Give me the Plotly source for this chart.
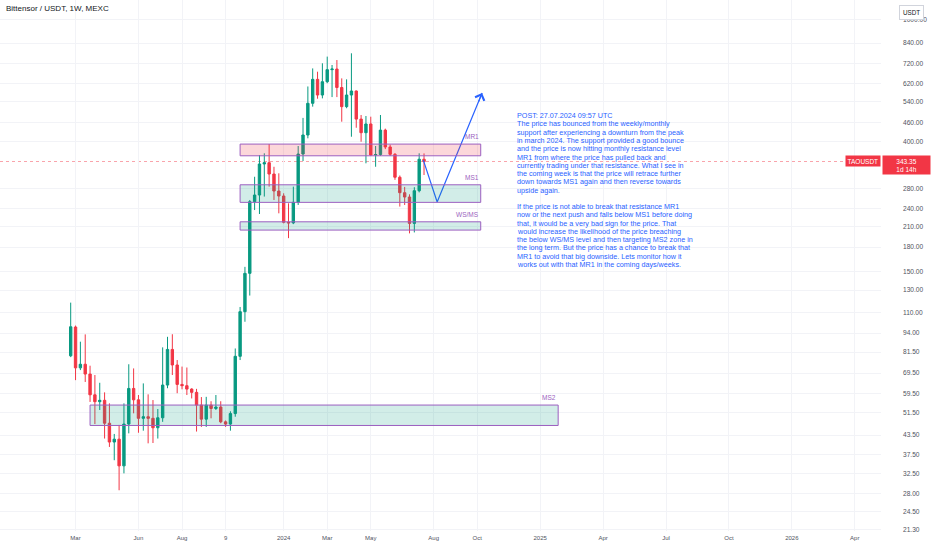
import numpy as np
import pandas as pd
import plotly.graph_objects as go

# ---------------- data (weekly TAO/USDT candles) ----------------
first_week = "2023-02-27"
opens = [79.2, 98.4, 72.3, 74.3, 69.0, 59.0, 56.0, 56.6, 47.6, 41.3,
         42.2, 34.5, 47.3, 61.9, 56.8, 49.4, 50.0, 49.4, 46.0, 49.6,
         63.5, 83.1, 73.9, 63.8, 63.2, 61.6, 60.1, 54.6, 49.1, 54.6,
         53.2, 53.8, 48.1, 47.3, 51.2, 78.9, 110.5, 147.6, 253.5, 266.6,
         337.0, 340.3, 312.4, 274.8, 264.6, 217.0, 216.0, 252.3, 363.3, 419.4,
         532.8, 638.4, 567.2, 627.1, 686.8, 690.0, 600.3, 519.5, 567.2, 584.6,
         472.9, 426.8, 455.8, 360.6, 362.0, 435.2, 383.1, 362.5, 304.9, 271.3,
         262.6, 215.2, 275.4, 349.3]
highs = [118.3, 99.5, 88.1, 93.1, 73.5, 68.5, 64.6, 60.1, 55.3, 43.9,
         47.0, 55.3, 74.3, 72.0, 58.9, 64.3, 59.2, 56.7, 53.0, 84.4,
         91.4, 93.2, 76.7, 73.0, 72.5, 62.0, 61.7, 58.0, 58.1, 56.2,
         58.9, 56.2, 48.6, 52.1, 83.7, 114.5, 155.0, 256.8, 306.0, 360.6,
         365.3, 391.8, 330.0, 314.1, 270.1, 250.4, 284.0, 386.0, 477.2, 605.0,
         693.4, 676.3, 720.7, 758.0, 711.5, 738.6, 643.2, 638.4, 777.1, 587.0,
         487.8, 484.1, 481.6, 386.0, 487.8, 440.0, 390.0, 366.0, 309.0, 283.4,
         268.0, 282.8, 365.3, 365.0]
lows = [78.4, 65.9, 71.1, 65.0, 55.9, 47.3, 52.6, 42.4, 39.8, 36.0,
        28.7, 32.6, 44.1, 51.3, 44.3, 45.0, 40.9, 41.0, 42.4, 48.1,
        62.0, 68.5, 59.7, 61.5, 58.9, 57.4, 44.7, 46.3, 46.3, 49.4,
        52.6, 47.6, 46.3, 45.0, 50.0, 76.7, 102.4, 124.8, 238.0, 231.0,
        263.5, 284.0, 256.8, 232.2, 215.2, 192.5, 214.0, 247.3, 344.6, 409.1,
        519.5, 551.6, 553.0, 620.0, 558.4, 558.4, 463.7, 513.3, 414.0, 443.0,
        398.7, 338.7, 357.8, 330.0, 358.0, 377.0, 357.8, 299.0, 244.3, 247.3,
        199.6, 201.0, 272.0, 310.1]
closes = [98.6, 72.3, 74.3, 69.0, 59.0, 56.0, 56.6, 47.6, 41.3, 42.2,
          34.5, 47.3, 61.9, 56.8, 49.4, 50.0, 49.4, 46.0, 49.6, 63.5,
          83.1, 73.9, 63.8, 63.2, 61.6, 60.1, 54.6, 49.1, 54.6, 53.2,
          53.8, 48.1, 47.3, 51.2, 78.9, 110.5, 147.6, 253.5, 266.6, 337.0,
          340.3, 312.4, 274.8, 264.6, 217.0, 216.0, 252.3, 363.3, 419.4, 532.8,
          638.4, 567.2, 627.1, 686.8, 690.0, 600.3, 519.5, 567.2, 584.6, 472.9,
          426.8, 455.8, 360.6, 362.0, 435.2, 383.1, 362.5, 304.9, 271.3, 262.6,
          215.2, 275.4, 349.3, 343.35]
weeks = pd.date_range(first_week, periods=len(opens), freq="7D")

last_price = 343.35
last_price_text = "343.35"
countdown_text = "1d 14h"
symbol_text = "TAOUSDT"

# support / resistance zones
zone_names = ["MR1", "MS1", "WS/MS", "MS2"]
zone_low = [358.5, 252.2, 204.6, 46.8]
zone_high = [391.6, 288.0, 217.8, 54.6]
zone_start = ["2023-10-30", "2023-10-30", "2023-10-30", "2023-03-27"]
zone_end = ["2024-10-12", "2024-10-12", "2024-10-12", "2025-02-01"]
zone_kind = ["res", "sup", "sup", "sup"]

# projected path drawing
arrow_dates = ["2024-07-21", "2024-08-10", "2024-10-14"]
arrow_prices = [347.0, 253.0, 576.0]

y_ticks = [1000, 840, 720, 620, 540, 460, 400, 280, 240, 210, 180, 150, 130,
           110, 94, 81.5, 69.5, 59.5, 51.5, 43.5, 37.5, 32.5, 28, 24.5, 21.3]
x_tick_dates = ["2023-03-06", "2023-06-05", "2023-08-07", "2023-10-09", "2024-01-01",
                "2024-03-04", "2024-05-06", "2024-08-05", "2024-10-07", "2025-01-06",
                "2025-04-07", "2025-07-07", "2025-10-06", "2026-01-05", "2026-04-06"]
x_tick_text = ["Mar", "Jun", "Aug", "9", "2024", "Mar", "May", "Aug", "Oct", "2025",
               "Apr", "Jul", "Oct", "2026", "Apr"]

title_text = "Bittensor / USDT, 1W, MEXC"
note_lines = [
    "POST: 27.07.2024 09:57 UTC",
    "The price has bounced from the weekly/monthly",
    "support after experiencing a downturn from the peak",
    "in march 2024. The support provided a good bounce",
    "and the price is now hitting monthly resistance level",
    "MR1 from where the price has pulled back and",
    "currently trading under that resistance. What I see in",
    "the coming week is that the price will retrace further",
    "down towards MS1 again and then reverse towards",
    "upside again.",
    "",
    "If the price is not able to break that resistance MR1",
    "now or the next push and falls below MS1 before doing",
    "that, it would be a very bad sign for the price. That",
    "would increase the likelihood of the price breaching",
    "the below WS/MS level and then targeting MS2 zone in",
    "the long term. But the price has a chance to break that",
    "MR1 to avoid that big downside. Lets monitor how it",
    "works out with that MR1 in the coming days/weeks.",
]

# ---------------- layout geometry ----------------
W, H = 932, 550
ML, MR, MT, MB = 0, 51, 0, 19
PW, PH = W - ML - MR, H - MT - MB
PX_PER_WEEK = 4.84
FIRST_X = 70.7          # pixel of first candle
PX_PER_DECADE = 305.0
REF_PRICE, REF_Y = 840.0, 43.0
NOTE_X, NOTE_Y0, NOTE_DY = 515.5, 115.7, 8.26

t0 = pd.Timestamp(first_week)
x_left = t0 - pd.Timedelta(days=FIRST_X / PX_PER_WEEK * 7)
x_right = x_left + pd.Timedelta(days=PW / PX_PER_WEEK * 7)
y_top = np.log10(REF_PRICE) + REF_Y / PX_PER_DECADE
y_bot = y_top - PH / PX_PER_DECADE

GREEN = "#089981"
RED = "#f23645"
PURPLE = "#9c5fc0"
BLUE = "#2962ff"
TXT = "#131722"
AXT = "#50535e"
FONT = "Liberation Sans"

fig = go.Figure()

fig.add_trace(go.Candlestick(
    x=weeks, open=opens, high=highs, low=lows, close=closes,
    increasing=dict(line=dict(color=GREEN, width=1), fillcolor=GREEN),
    decreasing=dict(line=dict(color=RED, width=1), fillcolor=RED),
    whiskerwidth=0, hoverinfo="skip", showlegend=False,
))

# projected path
fig.add_trace(go.Scatter(
    x=pd.to_datetime(arrow_dates), y=arrow_prices, mode="lines",
    line=dict(color=BLUE, width=1.2), hoverinfo="skip", showlegend=False,
))

shapes = []
# last price line
shapes.append(dict(type="line", xref="paper", x0=0, x1=1, yref="y",
                   y0=last_price, y1=last_price,
                   line=dict(color="rgba(242,54,69,0.45)", width=1, dash="dot"),
                   layer="below"))
for nm, lo, hi, s, e, k in zip(zone_names, zone_low, zone_high, zone_start, zone_end, zone_kind):
    fill = "rgba(242,54,69,0.2)" if k == "res" else "rgba(8,153,129,0.18)"
    shapes.append(dict(type="rect", xref="x", yref="y", x0=s, x1=e, y0=lo, y1=hi,
                       fillcolor=fill, line=dict(color=PURPLE, width=1), layer="above"))

annotations = []
for nm, hi, e in zip(zone_names, zone_high, zone_end):
    annotations.append(dict(x=e, y=np.log10(hi), xref="x", yref="y", text=nm,
                            showarrow=False, xanchor="right", yanchor="bottom",
                            yshift=2, font=dict(size=6.5, color=PURPLE, family=FONT)))

# arrow head at the end of the projected path
annotations.append(dict(x=arrow_dates[-1], y=np.log10(arrow_prices[-1]), xref="x", yref="y",
                        text="", showarrow=True, ax=-4, ay=10, arrowhead=4,
                        arrowsize=1.6, arrowwidth=1.2, arrowcolor=BLUE))

# note text, one annotation per line
for i, line in enumerate(note_lines):
    if not line:
        continue
    annotations.append(dict(x=NOTE_X / PW, y=1 - (NOTE_Y0 + i * NOTE_DY) / PH,
                            xref="paper", yref="paper", text=line, showarrow=False,
                            xanchor="left", yanchor="middle", align="left", borderpad=0,
                            font=dict(size=7.2, color=BLUE, family=FONT)))

# title
annotations.append(dict(x=4 / PW, y=1 - 8 / PH, xref="paper", yref="paper",
                        text=title_text, showarrow=False, xanchor="left",
                        yanchor="middle", font=dict(size=8, color=TXT, family=FONT)))

# last price labels
annotations.append(dict(x=1, y=np.log10(last_price), xref="paper", yref="y",
                        text=last_price_text + "<br>" + countdown_text,
                        showarrow=False, xanchor="left", yanchor="top", yshift=7,
                        xshift=1, bgcolor=RED, borderpad=1.5, width=44, align="center",
                        font=dict(size=6.5, color="white", family=FONT)))
annotations.append(dict(x=1, y=np.log10(last_price), xref="paper", yref="y",
                        text=symbol_text, showarrow=False, xanchor="right",
                        yanchor="middle", yshift=1, bgcolor=RED, borderpad=1.5,
                        font=dict(size=6.5, color="white", family=FONT)))
# currency box
annotations.append(dict(x=911 / PW, y=1 - 12 / PH, xref="paper", yref="paper",
                        text="USDT", showarrow=False, xanchor="center", yanchor="middle",
                        bgcolor="white", bordercolor="#d1d4dc", borderwidth=1,
                        borderpad=3, font=dict(size=6.3, color=TXT, family=FONT)))

fig.update_layout(
    width=W, height=H,
    margin=dict(l=ML, r=MR, t=MT, b=MB),
    paper_bgcolor="white", plot_bgcolor="white",
    showlegend=False,
    shapes=shapes, annotations=annotations,
    xaxis=dict(type="date", range=[x_left, x_right], rangeslider=dict(visible=False),
               tickmode="array", tickvals=pd.to_datetime(x_tick_dates), ticktext=x_tick_text,
               showgrid=True, gridcolor="#f2f3f7", gridwidth=1, zeroline=False,
               showline=False, ticks="", ticklabelstandoff=2,
               tickfont=dict(size=6, color=AXT, family=FONT)),
    yaxis=dict(type="log", side="right", range=[y_bot, y_top],
               tickmode="array", tickvals=y_ticks,
               ticktext=[f"{v:.2f}" for v in y_ticks],
               showgrid=True, gridcolor="#f2f3f7", gridwidth=1, zeroline=False,
               showline=False, ticks="", ticklabelstandoff=21,
               tickfont=dict(size=6.6, color=AXT, family=FONT)),
    hovermode=False,
)

fig.write_html("out.html", config={"displayModeBar": False, "staticPlot": True},
               post_script="document.body.style.margin='0';document.body.style.overflow='hidden';")
